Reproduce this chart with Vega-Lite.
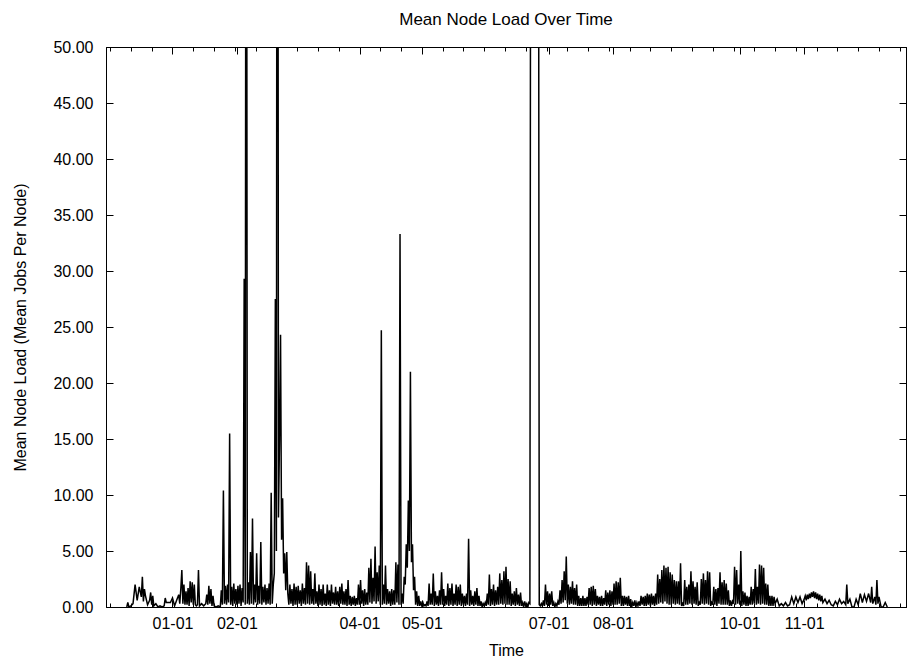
{
  "$schema": "https://vega.github.io/schema/vega-lite/v6.json",
  "autosize": {"type": "none"},
  "width": 800,
  "height": 560,
  "padding": {"left": 106, "top": 47, "right": 14, "bottom": 54},
  "background": "white",
  "title": {"text": "Mean Node Load Over Time", "font": "Liberation Sans", "fontSize": 17, "fontWeight": "normal", "color": "black", "offset": 10, "anchor": "middle"},
  "config": {
    "view": {"stroke": "black", "strokeWidth": 1},
    "axis": {"grid": false, "domainColor": "black", "domainWidth": 1, "tickColor": "black", "tickWidth": 1, "labelFont": "Liberation Sans", "labelFontSize": 16, "labelColor": "black", "titleFont": "Liberation Sans", "titleFontSize": 16, "titleFontWeight": "normal", "titleColor": "black"}
  },
  "data": {
    "format": {"parse": {"t": "utc:'%Y-%m-%d %H'"}},
    "values": [
      {"t": "2002-12-10 00", "v": 0.0}, {"t": "2002-12-10 12", "v": 0.4}, {"t": "2002-12-11 00", "v": 0.0}, {"t": "2002-12-12 00", "v": 0.1},
      {"t": "2002-12-13 00", "v": 0.3}, {"t": "2002-12-14 00", "v": 2.0}, {"t": "2002-12-15 00", "v": 0.6}, {"t": "2002-12-16 00", "v": 1.8},
      {"t": "2002-12-17 00", "v": 0.9}, {"t": "2002-12-17 12", "v": 2.7}, {"t": "2002-12-18 00", "v": 0.5}, {"t": "2002-12-18 12", "v": 1.6},
      {"t": "2002-12-19 00", "v": 1.0}, {"t": "2002-12-20 00", "v": 0.2}, {"t": "2002-12-21 00", "v": 0.6}, {"t": "2002-12-21 12", "v": 1.3},
      {"t": "2002-12-22 00", "v": 0.2}, {"t": "2002-12-22 12", "v": 1.0}, {"t": "2002-12-23 00", "v": 0.1}, {"t": "2002-12-24 00", "v": 0.3},
      {"t": "2002-12-25 00", "v": 0.0}, {"t": "2002-12-26 00", "v": 0.1}, {"t": "2002-12-27 00", "v": 0.0}, {"t": "2002-12-28 00", "v": 0.1},
      {"t": "2002-12-28 12", "v": 0.8}, {"t": "2002-12-29 00", "v": 0.4}, {"t": "2002-12-30 00", "v": 0.4}, {"t": "2002-12-31 00", "v": 0.4},
      {"t": "2003-01-01 00", "v": 0.8}, {"t": "2003-01-02 00", "v": 0.1}, {"t": "2003-01-03 00", "v": 0.6}, {"t": "2003-01-04 00", "v": 1.1},
      {"t": "2003-01-04 12", "v": 0.3}, {"t": "2003-01-05 00", "v": 1.6}, {"t": "2003-01-05 12", "v": 3.3}, {"t": "2003-01-06 00", "v": 0.3},
      {"t": "2003-01-06 12", "v": 2.0}, {"t": "2003-01-07 00", "v": 0.2}, {"t": "2003-01-07 12", "v": 1.4}, {"t": "2003-01-08 00", "v": 0.2},
      {"t": "2003-01-08 12", "v": 1.7}, {"t": "2003-01-09 00", "v": 0.1}, {"t": "2003-01-09 12", "v": 2.3}, {"t": "2003-01-10 00", "v": 0.4},
      {"t": "2003-01-10 12", "v": 2.2}, {"t": "2003-01-11 00", "v": 0.2}, {"t": "2003-01-11 12", "v": 2.0}, {"t": "2003-01-12 00", "v": 0.2},
      {"t": "2003-01-12 12", "v": 0.1}, {"t": "2003-01-13 00", "v": 0.2}, {"t": "2003-01-13 12", "v": 3.3}, {"t": "2003-01-14 00", "v": 0.1},
      {"t": "2003-01-15 00", "v": 0.3}, {"t": "2003-01-16 00", "v": 0.1}, {"t": "2003-01-17 00", "v": 0.3}, {"t": "2003-01-17 12", "v": 1.1},
      {"t": "2003-01-18 00", "v": 0.2}, {"t": "2003-01-18 12", "v": 1.9}, {"t": "2003-01-19 00", "v": 0.3}, {"t": "2003-01-19 12", "v": 1.6},
      {"t": "2003-01-20 00", "v": 0.1}, {"t": "2003-01-20 12", "v": 1.0}, {"t": "2003-01-21 00", "v": 0.1}, {"t": "2003-01-22 00", "v": 0.0},
      {"t": "2003-01-23 00", "v": 0.1}, {"t": "2003-01-24 00", "v": 0.0}, {"t": "2003-01-24 12", "v": 1.5},
      {"t": "2003-01-25 00", "v": 0.2}, {"t": "2003-01-25 12", "v": 10.4}, {"t": "2003-01-26 00", "v": 0.3}, {"t": "2003-01-26 12", "v": 1.9},
      {"t": "2003-01-27 00", "v": 0.2}, {"t": "2003-01-27 12", "v": 2.0}, {"t": "2003-01-28 00", "v": 0.4}, {"t": "2003-01-28 12", "v": 15.5},
      {"t": "2003-01-29 00", "v": 0.2}, {"t": "2003-01-29 12", "v": 1.8}, {"t": "2003-01-30 00", "v": 0.1}, {"t": "2003-01-30 12", "v": 2.1},
      {"t": "2003-01-31 00", "v": 0.3}, {"t": "2003-01-31 12", "v": 1.6}, {"t": "2003-02-01 00", "v": 0.2}, {"t": "2003-02-01 12", "v": 1.9},
      {"t": "2003-02-02 00", "v": 0.3}, {"t": "2003-02-02 12", "v": 2.0}, {"t": "2003-02-03 00", "v": 0.1}, {"t": "2003-02-03 12", "v": 1.7},
      {"t": "2003-02-04 00", "v": 0.4}, {"t": "2003-02-04 12", "v": 29.3}, {"t": "2003-02-05 00", "v": 0.2}, {"t": "2003-02-05 12", "v": 120.0},
      {"t": "2003-02-06 00", "v": 0.3}, {"t": "2003-02-06 12", "v": 2.2}, {"t": "2003-02-07 00", "v": 0.2}, {"t": "2003-02-07 12", "v": 4.9},
      {"t": "2003-02-08 00", "v": 0.3}, {"t": "2003-02-08 12", "v": 7.9}, {"t": "2003-02-09 00", "v": 0.2}, {"t": "2003-02-09 12", "v": 2.0},
      {"t": "2003-02-10 00", "v": 0.4}, {"t": "2003-02-10 12", "v": 4.8}, {"t": "2003-02-11 00", "v": 0.2}, {"t": "2003-02-11 12", "v": 1.9},
      {"t": "2003-02-12 00", "v": 0.3}, {"t": "2003-02-12 12", "v": 5.8}, {"t": "2003-02-13 00", "v": 0.2}, {"t": "2003-02-13 12", "v": 1.8},
      {"t": "2003-02-14 00", "v": 0.4}, {"t": "2003-02-14 12", "v": 2.0}, {"t": "2003-02-15 00", "v": 0.2}, {"t": "2003-02-15 12", "v": 1.7},
      {"t": "2003-02-16 00", "v": 0.3}, {"t": "2003-02-16 12", "v": 2.1}, {"t": "2003-02-17 00", "v": 0.2}, {"t": "2003-02-17 12", "v": 10.2},
      {"t": "2003-02-18 00", "v": 0.3}, {"t": "2003-02-18 12", "v": 2.0}, {"t": "2003-02-19 00", "v": 3.0}, {"t": "2003-02-19 12", "v": 27.5},
      {"t": "2003-02-20 00", "v": 5.0}, {"t": "2003-02-20 12", "v": 140.0}, {"t": "2003-02-21 00", "v": 8.0}, {"t": "2003-02-21 12", "v": 15.0},
      {"t": "2003-02-22 00", "v": 24.3}, {"t": "2003-02-22 12", "v": 6.0}, {"t": "2003-02-23 00", "v": 9.7}, {"t": "2003-02-23 12", "v": 3.0},
      {"t": "2003-02-24 00", "v": 4.8}, {"t": "2003-02-24 12", "v": 1.5}, {"t": "2003-02-25 00", "v": 4.9}, {"t": "2003-02-25 12", "v": 1.2},
      {"t": "2003-02-26 00", "v": 0.2}, {"t": "2003-02-26 12", "v": 2.0}, {"t": "2003-02-27 00", "v": 0.3}, {"t": "2003-02-27 12", "v": 1.6},
      {"t": "2003-02-28 00", "v": 0.1}, {"t": "2003-02-28 12", "v": 2.1}, {"t": "2003-03-01 00", "v": 0.2}, {"t": "2003-03-01 12", "v": 1.8},
      {"t": "2003-03-02 00", "v": 0.2}, {"t": "2003-03-02 12", "v": 1.9}, {"t": "2003-03-03 00", "v": 0.3}, {"t": "2003-03-03 12", "v": 1.5},
      {"t": "2003-03-04 00", "v": 0.1}, {"t": "2003-03-04 12", "v": 2.1}, {"t": "2003-03-05 00", "v": 0.3}, {"t": "2003-03-05 12", "v": 1.7},
      {"t": "2003-03-06 00", "v": 0.2}, {"t": "2003-03-06 12", "v": 4.0}, {"t": "2003-03-07 00", "v": 0.3}, {"t": "2003-03-07 12", "v": 3.7},
      {"t": "2003-03-08 00", "v": 0.2}, {"t": "2003-03-08 12", "v": 3.2}, {"t": "2003-03-09 00", "v": 0.3}, {"t": "2003-03-09 12", "v": 1.6},
      {"t": "2003-03-10 00", "v": 0.2}, {"t": "2003-03-10 12", "v": 3.0}, {"t": "2003-03-11 00", "v": 0.3}, {"t": "2003-03-11 12", "v": 1.4},
      {"t": "2003-03-12 00", "v": 0.1}, {"t": "2003-03-12 12", "v": 2.0}, {"t": "2003-03-13 00", "v": 0.2}, {"t": "2003-03-13 12", "v": 1.6},
      {"t": "2003-03-14 00", "v": 0.1}, {"t": "2003-03-14 12", "v": 2.0}, {"t": "2003-03-15 00", "v": 0.2}, {"t": "2003-03-15 12", "v": 1.2},
      {"t": "2003-03-16 00", "v": 0.1}, {"t": "2003-03-16 12", "v": 2.0}, {"t": "2003-03-17 00", "v": 0.2}, {"t": "2003-03-17 12", "v": 1.5},
      {"t": "2003-03-18 00", "v": 0.1}, {"t": "2003-03-18 12", "v": 2.0}, {"t": "2003-03-19 00", "v": 0.3}, {"t": "2003-03-19 12", "v": 1.3},
      {"t": "2003-03-20 00", "v": 0.2}, {"t": "2003-03-20 12", "v": 1.8}, {"t": "2003-03-21 00", "v": 0.2}, {"t": "2003-03-21 12", "v": 1.4},
      {"t": "2003-03-22 00", "v": 0.1}, {"t": "2003-03-22 12", "v": 1.8}, {"t": "2003-03-23 00", "v": 0.3}, {"t": "2003-03-23 12", "v": 2.1},
      {"t": "2003-03-24 00", "v": 0.2}, {"t": "2003-03-24 12", "v": 1.4}, {"t": "2003-03-25 00", "v": 0.2}, {"t": "2003-03-25 12", "v": 1.6},
      {"t": "2003-03-26 00", "v": 0.1}, {"t": "2003-03-26 12", "v": 2.4}, {"t": "2003-03-27 00", "v": 0.2}, {"t": "2003-03-27 12", "v": 1.0},
      {"t": "2003-03-28 00", "v": 0.1}, {"t": "2003-03-28 12", "v": 0.9}, {"t": "2003-03-29 00", "v": 0.2}, {"t": "2003-03-29 12", "v": 1.0},
      {"t": "2003-03-30 00", "v": 0.1}, {"t": "2003-03-30 12", "v": 0.8}, {"t": "2003-03-31 00", "v": 0.2}, {"t": "2003-03-31 12", "v": 2.0},
      {"t": "2003-04-01 00", "v": 0.2}, {"t": "2003-04-01 12", "v": 2.4}, {"t": "2003-04-02 00", "v": 0.3}, {"t": "2003-04-02 12", "v": 1.5},
      {"t": "2003-04-03 00", "v": 0.1}, {"t": "2003-04-03 12", "v": 1.6}, {"t": "2003-04-04 00", "v": 0.2}, {"t": "2003-04-04 12", "v": 1.3},
      {"t": "2003-04-05 00", "v": 0.2}, {"t": "2003-04-05 12", "v": 3.5}, {"t": "2003-04-06 00", "v": 0.4}, {"t": "2003-04-06 12", "v": 4.3},
      {"t": "2003-04-07 00", "v": 0.3}, {"t": "2003-04-07 12", "v": 2.6}, {"t": "2003-04-08 00", "v": 0.5}, {"t": "2003-04-08 12", "v": 5.4},
      {"t": "2003-04-09 00", "v": 0.3}, {"t": "2003-04-09 12", "v": 3.1}, {"t": "2003-04-10 00", "v": 0.5}, {"t": "2003-04-10 12", "v": 3.7},
      {"t": "2003-04-11 00", "v": 0.2}, {"t": "2003-04-11 12", "v": 24.7}, {"t": "2003-04-12 00", "v": 0.2}, {"t": "2003-04-12 12", "v": 2.0},
      {"t": "2003-04-13 00", "v": 0.3}, {"t": "2003-04-13 12", "v": 3.7}, {"t": "2003-04-14 00", "v": 0.2}, {"t": "2003-04-14 12", "v": 1.6},
      {"t": "2003-04-15 00", "v": 0.3}, {"t": "2003-04-15 12", "v": 1.4}, {"t": "2003-04-16 00", "v": 0.1}, {"t": "2003-04-16 12", "v": 1.6},
      {"t": "2003-04-17 00", "v": 0.2}, {"t": "2003-04-17 12", "v": 1.5}, {"t": "2003-04-18 00", "v": 0.2}, {"t": "2003-04-18 12", "v": 4.0},
      {"t": "2003-04-19 00", "v": 0.4}, {"t": "2003-04-19 12", "v": 3.8}, {"t": "2003-04-20 00", "v": 0.2}, {"t": "2003-04-20 12", "v": 33.3},
      {"t": "2003-04-21 00", "v": 0.2}, {"t": "2003-04-21 12", "v": 1.2}, {"t": "2003-04-22 00", "v": 0.3}, {"t": "2003-04-22 12", "v": 2.7},
      {"t": "2003-04-23 00", "v": 2.0}, {"t": "2003-04-23 12", "v": 5.6}, {"t": "2003-04-24 00", "v": 3.5}, {"t": "2003-04-24 12", "v": 9.5},
      {"t": "2003-04-25 00", "v": 5.0}, {"t": "2003-04-25 12", "v": 21.0}, {"t": "2003-04-26 00", "v": 4.0}, {"t": "2003-04-26 12", "v": 5.6},
      {"t": "2003-04-27 00", "v": 1.5}, {"t": "2003-04-27 12", "v": 2.7}, {"t": "2003-04-28 00", "v": 0.2}, {"t": "2003-04-28 12", "v": 1.4},
      {"t": "2003-04-29 00", "v": 0.1}, {"t": "2003-04-29 12", "v": 1.0}, {"t": "2003-04-30 00", "v": 0.1}, {"t": "2003-04-30 12", "v": 0.5},
      {"t": "2003-05-01 00", "v": 0.1}, {"t": "2003-05-01 12", "v": 0.4}, {"t": "2003-05-02 00", "v": 0.1}, {"t": "2003-05-02 12", "v": 0.2},
      {"t": "2003-05-03 00", "v": 0.1}, {"t": "2003-05-03 12", "v": 0.5}, {"t": "2003-05-04 00", "v": 0.1}, {"t": "2003-05-04 12", "v": 2.1},
      {"t": "2003-05-05 00", "v": 0.2}, {"t": "2003-05-05 12", "v": 1.2}, {"t": "2003-05-06 00", "v": 0.2}, {"t": "2003-05-06 12", "v": 3.0},
      {"t": "2003-05-07 00", "v": 0.1}, {"t": "2003-05-07 12", "v": 1.4}, {"t": "2003-05-08 00", "v": 0.2}, {"t": "2003-05-08 12", "v": 1.0},
      {"t": "2003-05-09 00", "v": 0.1}, {"t": "2003-05-09 12", "v": 1.5}, {"t": "2003-05-10 00", "v": 0.2}, {"t": "2003-05-10 12", "v": 3.1},
      {"t": "2003-05-11 00", "v": 0.2}, {"t": "2003-05-11 12", "v": 1.6}, {"t": "2003-05-12 00", "v": 0.1}, {"t": "2003-05-12 12", "v": 1.0},
      {"t": "2003-05-13 00", "v": 0.2}, {"t": "2003-05-13 12", "v": 2.1}, {"t": "2003-05-14 00", "v": 0.1}, {"t": "2003-05-14 12", "v": 1.7},
      {"t": "2003-05-15 00", "v": 0.2}, {"t": "2003-05-15 12", "v": 2.1}, {"t": "2003-05-16 00", "v": 0.1}, {"t": "2003-05-16 12", "v": 1.2},
      {"t": "2003-05-17 00", "v": 0.2}, {"t": "2003-05-17 12", "v": 2.0}, {"t": "2003-05-18 00", "v": 0.1}, {"t": "2003-05-18 12", "v": 1.8},
      {"t": "2003-05-19 00", "v": 0.2}, {"t": "2003-05-19 12", "v": 2.0}, {"t": "2003-05-20 00", "v": 0.1}, {"t": "2003-05-20 12", "v": 1.2},
      {"t": "2003-05-21 00", "v": 0.2}, {"t": "2003-05-21 12", "v": 1.0}, {"t": "2003-05-22 00", "v": 0.1}, {"t": "2003-05-22 12", "v": 1.2},
      {"t": "2003-05-23 00", "v": 0.2}, {"t": "2003-05-23 12", "v": 6.1}, {"t": "2003-05-24 00", "v": 0.1}, {"t": "2003-05-24 12", "v": 1.5},
      {"t": "2003-05-25 00", "v": 0.2}, {"t": "2003-05-25 12", "v": 1.0}, {"t": "2003-05-26 00", "v": 0.1}, {"t": "2003-05-26 12", "v": 1.4},
      {"t": "2003-05-27 00", "v": 0.2}, {"t": "2003-05-27 12", "v": 1.7}, {"t": "2003-05-28 00", "v": 0.1}, {"t": "2003-05-28 12", "v": 1.0},
      {"t": "2003-05-29 00", "v": 0.1}, {"t": "2003-05-29 12", "v": 0.5}, {"t": "2003-05-30 00", "v": 0.0}, {"t": "2003-05-30 12", "v": 0.3},
      {"t": "2003-05-31 00", "v": 0.1}, {"t": "2003-05-31 12", "v": 0.4}, {"t": "2003-06-01 00", "v": 0.1}, {"t": "2003-06-01 12", "v": 1.2},
      {"t": "2003-06-02 00", "v": 0.2}, {"t": "2003-06-02 12", "v": 2.9}, {"t": "2003-06-03 00", "v": 0.1}, {"t": "2003-06-03 12", "v": 1.6},
      {"t": "2003-06-04 00", "v": 0.2}, {"t": "2003-06-04 12", "v": 2.0}, {"t": "2003-06-05 00", "v": 0.1}, {"t": "2003-06-05 12", "v": 1.5},
      {"t": "2003-06-06 00", "v": 0.2}, {"t": "2003-06-06 12", "v": 1.8}, {"t": "2003-06-07 00", "v": 0.2}, {"t": "2003-06-07 12", "v": 3.0},
      {"t": "2003-06-08 00", "v": 0.3}, {"t": "2003-06-08 12", "v": 2.4}, {"t": "2003-06-09 00", "v": 0.2}, {"t": "2003-06-09 12", "v": 3.2},
      {"t": "2003-06-10 00", "v": 0.3}, {"t": "2003-06-10 12", "v": 3.6}, {"t": "2003-06-11 00", "v": 0.2}, {"t": "2003-06-11 12", "v": 2.5},
      {"t": "2003-06-12 00", "v": 0.2}, {"t": "2003-06-12 12", "v": 2.3}, {"t": "2003-06-13 00", "v": 0.1}, {"t": "2003-06-13 12", "v": 1.2},
      {"t": "2003-06-14 00", "v": 0.2}, {"t": "2003-06-14 12", "v": 1.4}, {"t": "2003-06-15 00", "v": 0.1}, {"t": "2003-06-15 12", "v": 1.7},
      {"t": "2003-06-16 00", "v": 0.2}, {"t": "2003-06-16 12", "v": 1.1}, {"t": "2003-06-17 00", "v": 0.1}, {"t": "2003-06-17 12", "v": 1.3},
      {"t": "2003-06-18 00", "v": 0.1}, {"t": "2003-06-18 12", "v": 0.4}, {"t": "2003-06-19 00", "v": 0.0}, {"t": "2003-06-19 12", "v": 0.5},
      {"t": "2003-06-20 00", "v": 0.1}, {"t": "2003-06-20 12", "v": 0.3}, {"t": "2003-06-21 00", "v": 0.0}, {"t": "2003-06-21 12", "v": 0.4},
      {"t": "2003-06-22 00", "v": 0.3}, {"t": "2003-06-22 12", "v": 95.0}, {"t": "2003-06-23 00", "v": 110.0}, {"t": "2003-06-23 12", "v": 104.0},
      {"t": "2003-06-24 00", "v": 98.0}, {"t": "2003-06-24 12", "v": 112.0}, {"t": "2003-06-25 00", "v": 105.0}, {"t": "2003-06-25 12", "v": 96.0},
      {"t": "2003-06-26 00", "v": 102.0}, {"t": "2003-06-26 12", "v": 0.2}, {"t": "2003-06-27 00", "v": 0.1}, {"t": "2003-06-27 12", "v": 0.3},
      {"t": "2003-06-28 00", "v": 0.1}, {"t": "2003-06-28 12", "v": 0.6}, {"t": "2003-06-29 00", "v": 0.1}, {"t": "2003-06-29 12", "v": 2.0},
      {"t": "2003-06-30 00", "v": 0.2}, {"t": "2003-06-30 12", "v": 1.4}, {"t": "2003-07-01 00", "v": 0.1}, {"t": "2003-07-01 12", "v": 1.2},
      {"t": "2003-07-02 00", "v": 0.2}, {"t": "2003-07-02 12", "v": 1.4}, {"t": "2003-07-03 00", "v": 0.1}, {"t": "2003-07-03 12", "v": 0.4},
      {"t": "2003-07-04 00", "v": 0.0}, {"t": "2003-07-04 12", "v": 0.3}, {"t": "2003-07-05 00", "v": 0.1}, {"t": "2003-07-05 12", "v": 0.5},
      {"t": "2003-07-06 00", "v": 0.2}, {"t": "2003-07-06 12", "v": 1.5}, {"t": "2003-07-07 00", "v": 0.3}, {"t": "2003-07-07 12", "v": 2.4},
      {"t": "2003-07-08 00", "v": 0.4}, {"t": "2003-07-08 12", "v": 3.2}, {"t": "2003-07-09 00", "v": 0.6}, {"t": "2003-07-09 12", "v": 4.5},
      {"t": "2003-07-10 00", "v": 0.3}, {"t": "2003-07-10 12", "v": 2.0}, {"t": "2003-07-11 00", "v": 0.2}, {"t": "2003-07-11 12", "v": 1.8},
      {"t": "2003-07-12 00", "v": 0.3}, {"t": "2003-07-12 12", "v": 2.3}, {"t": "2003-07-13 00", "v": 0.2}, {"t": "2003-07-13 12", "v": 1.7},
      {"t": "2003-07-14 00", "v": 0.2}, {"t": "2003-07-14 12", "v": 2.0}, {"t": "2003-07-15 00", "v": 0.1}, {"t": "2003-07-15 12", "v": 1.0},
      {"t": "2003-07-16 00", "v": 0.1}, {"t": "2003-07-16 12", "v": 0.8}, {"t": "2003-07-17 00", "v": 0.1}, {"t": "2003-07-17 12", "v": 1.0},
      {"t": "2003-07-18 00", "v": 0.1}, {"t": "2003-07-18 12", "v": 0.8}, {"t": "2003-07-19 00", "v": 0.1}, {"t": "2003-07-19 12", "v": 0.9},
      {"t": "2003-07-20 00", "v": 0.2}, {"t": "2003-07-20 12", "v": 1.7}, {"t": "2003-07-21 00", "v": 0.2}, {"t": "2003-07-21 12", "v": 1.8},
      {"t": "2003-07-22 00", "v": 0.1}, {"t": "2003-07-22 12", "v": 1.9}, {"t": "2003-07-23 00", "v": 0.2}, {"t": "2003-07-23 12", "v": 1.6},
      {"t": "2003-07-24 00", "v": 0.1}, {"t": "2003-07-24 12", "v": 1.0}, {"t": "2003-07-25 00", "v": 0.2}, {"t": "2003-07-25 12", "v": 0.9},
      {"t": "2003-07-26 00", "v": 0.1}, {"t": "2003-07-26 12", "v": 1.0}, {"t": "2003-07-27 00", "v": 0.1}, {"t": "2003-07-27 12", "v": 0.8},
      {"t": "2003-07-28 00", "v": 0.2}, {"t": "2003-07-28 12", "v": 1.5}, {"t": "2003-07-29 00", "v": 0.1}, {"t": "2003-07-29 12", "v": 1.3},
      {"t": "2003-07-30 00", "v": 0.2}, {"t": "2003-07-30 12", "v": 1.5}, {"t": "2003-07-31 00", "v": 0.1}, {"t": "2003-07-31 12", "v": 1.4},
      {"t": "2003-08-01 00", "v": 0.2}, {"t": "2003-08-01 12", "v": 2.1}, {"t": "2003-08-02 00", "v": 0.2}, {"t": "2003-08-02 12", "v": 2.3},
      {"t": "2003-08-03 00", "v": 0.2}, {"t": "2003-08-03 12", "v": 2.2}, {"t": "2003-08-04 00", "v": 0.3}, {"t": "2003-08-04 12", "v": 2.6},
      {"t": "2003-08-05 00", "v": 0.1}, {"t": "2003-08-05 12", "v": 1.0}, {"t": "2003-08-06 00", "v": 0.1}, {"t": "2003-08-06 12", "v": 1.0},
      {"t": "2003-08-07 00", "v": 0.2}, {"t": "2003-08-07 12", "v": 0.9}, {"t": "2003-08-08 00", "v": 0.1}, {"t": "2003-08-08 12", "v": 1.0},
      {"t": "2003-08-09 00", "v": 0.1}, {"t": "2003-08-09 12", "v": 0.7}, {"t": "2003-08-10 00", "v": 0.0}, {"t": "2003-08-10 12", "v": 0.4},
      {"t": "2003-08-11 00", "v": 0.1}, {"t": "2003-08-11 12", "v": 0.6}, {"t": "2003-08-12 00", "v": 0.0}, {"t": "2003-08-12 12", "v": 0.4},
      {"t": "2003-08-13 00", "v": 0.1}, {"t": "2003-08-13 12", "v": 0.5}, {"t": "2003-08-14 00", "v": 0.1}, {"t": "2003-08-14 12", "v": 1.0},
      {"t": "2003-08-15 00", "v": 0.2}, {"t": "2003-08-15 12", "v": 0.9}, {"t": "2003-08-16 00", "v": 0.1}, {"t": "2003-08-16 12", "v": 1.0},
      {"t": "2003-08-17 00", "v": 0.1}, {"t": "2003-08-17 12", "v": 1.2}, {"t": "2003-08-18 00", "v": 0.2}, {"t": "2003-08-18 12", "v": 1.1},
      {"t": "2003-08-19 00", "v": 0.1}, {"t": "2003-08-19 12", "v": 1.2}, {"t": "2003-08-20 00", "v": 0.2}, {"t": "2003-08-20 12", "v": 1.0},
      {"t": "2003-08-21 00", "v": 0.1}, {"t": "2003-08-21 12", "v": 1.2}, {"t": "2003-08-22 00", "v": 0.2}, {"t": "2003-08-22 12", "v": 2.9},
      {"t": "2003-08-23 00", "v": 0.3}, {"t": "2003-08-23 12", "v": 2.5}, {"t": "2003-08-24 00", "v": 0.4}, {"t": "2003-08-24 12", "v": 3.3},
      {"t": "2003-08-25 00", "v": 0.3}, {"t": "2003-08-25 12", "v": 3.7}, {"t": "2003-08-26 00", "v": 0.5}, {"t": "2003-08-26 12", "v": 3.5},
      {"t": "2003-08-27 00", "v": 0.3}, {"t": "2003-08-27 12", "v": 3.6}, {"t": "2003-08-28 00", "v": 0.2}, {"t": "2003-08-28 12", "v": 3.1},
      {"t": "2003-08-29 00", "v": 0.2}, {"t": "2003-08-29 12", "v": 2.9}, {"t": "2003-08-30 00", "v": 0.3}, {"t": "2003-08-30 12", "v": 2.4},
      {"t": "2003-08-31 00", "v": 0.2}, {"t": "2003-08-31 12", "v": 2.3}, {"t": "2003-09-01 00", "v": 0.3}, {"t": "2003-09-01 12", "v": 2.3},
      {"t": "2003-09-02 00", "v": 0.2}, {"t": "2003-09-02 12", "v": 3.9}, {"t": "2003-09-03 00", "v": 0.1}, {"t": "2003-09-03 12", "v": 0.3},
      {"t": "2003-09-04 00", "v": 0.1}, {"t": "2003-09-04 12", "v": 2.4}, {"t": "2003-09-05 00", "v": 0.2}, {"t": "2003-09-05 12", "v": 1.8},
      {"t": "2003-09-06 00", "v": 0.2}, {"t": "2003-09-06 12", "v": 2.0}, {"t": "2003-09-07 00", "v": 0.3}, {"t": "2003-09-07 12", "v": 3.2},
      {"t": "2003-09-08 00", "v": 0.2}, {"t": "2003-09-08 12", "v": 2.3}, {"t": "2003-09-09 00", "v": 0.3}, {"t": "2003-09-09 12", "v": 1.8},
      {"t": "2003-09-10 00", "v": 0.2}, {"t": "2003-09-10 12", "v": 2.2}, {"t": "2003-09-11 00", "v": 0.1}, {"t": "2003-09-11 12", "v": 0.4},
      {"t": "2003-09-12 00", "v": 0.2}, {"t": "2003-09-12 12", "v": 2.5}, {"t": "2003-09-13 00", "v": 0.3}, {"t": "2003-09-13 12", "v": 3.0},
      {"t": "2003-09-14 00", "v": 0.2}, {"t": "2003-09-14 12", "v": 2.4}, {"t": "2003-09-15 00", "v": 0.3}, {"t": "2003-09-15 12", "v": 3.2},
      {"t": "2003-09-16 00", "v": 0.2}, {"t": "2003-09-16 12", "v": 3.1}, {"t": "2003-09-17 00", "v": 0.1}, {"t": "2003-09-17 12", "v": 0.4},
      {"t": "2003-09-18 00", "v": 0.2}, {"t": "2003-09-18 12", "v": 1.8}, {"t": "2003-09-19 00", "v": 0.2}, {"t": "2003-09-19 12", "v": 1.6},
      {"t": "2003-09-20 00", "v": 0.1}, {"t": "2003-09-20 12", "v": 1.7}, {"t": "2003-09-21 00", "v": 0.3}, {"t": "2003-09-21 12", "v": 3.1},
      {"t": "2003-09-22 00", "v": 0.2}, {"t": "2003-09-22 12", "v": 2.2}, {"t": "2003-09-23 00", "v": 0.2}, {"t": "2003-09-23 12", "v": 2.4},
      {"t": "2003-09-24 00", "v": 0.2}, {"t": "2003-09-24 12", "v": 2.1}, {"t": "2003-09-25 00", "v": 0.2}, {"t": "2003-09-25 12", "v": 1.5},
      {"t": "2003-09-26 00", "v": 0.1}, {"t": "2003-09-26 12", "v": 0.6}, {"t": "2003-09-27 00", "v": 0.1}, {"t": "2003-09-27 12", "v": 0.5},
      {"t": "2003-09-28 00", "v": 0.3}, {"t": "2003-09-28 12", "v": 3.6}, {"t": "2003-09-29 00", "v": 0.2}, {"t": "2003-09-29 12", "v": 3.3},
      {"t": "2003-09-30 00", "v": 0.3}, {"t": "2003-09-30 12", "v": 2.0}, {"t": "2003-10-01 00", "v": 0.2}, {"t": "2003-10-01 12", "v": 5.0},
      {"t": "2003-10-02 00", "v": 0.1}, {"t": "2003-10-02 12", "v": 1.4}, {"t": "2003-10-03 00", "v": 0.2}, {"t": "2003-10-03 12", "v": 1.3},
      {"t": "2003-10-04 00", "v": 0.1}, {"t": "2003-10-04 12", "v": 1.0}, {"t": "2003-10-05 00", "v": 0.1}, {"t": "2003-10-05 12", "v": 0.9},
      {"t": "2003-10-06 00", "v": 0.2}, {"t": "2003-10-06 12", "v": 1.8}, {"t": "2003-10-07 00", "v": 0.2}, {"t": "2003-10-07 12", "v": 1.6},
      {"t": "2003-10-08 00", "v": 0.3}, {"t": "2003-10-08 12", "v": 3.4}, {"t": "2003-10-09 00", "v": 0.2}, {"t": "2003-10-09 12", "v": 1.8},
      {"t": "2003-10-10 00", "v": 0.3}, {"t": "2003-10-10 12", "v": 3.8}, {"t": "2003-10-11 00", "v": 0.2}, {"t": "2003-10-11 12", "v": 3.7},
      {"t": "2003-10-12 00", "v": 0.3}, {"t": "2003-10-12 12", "v": 3.5}, {"t": "2003-10-13 00", "v": 0.2}, {"t": "2003-10-13 12", "v": 2.1},
      {"t": "2003-10-14 00", "v": 0.2}, {"t": "2003-10-14 12", "v": 2.0}, {"t": "2003-10-15 00", "v": 0.1}, {"t": "2003-10-15 12", "v": 1.0},
      {"t": "2003-10-16 00", "v": 0.1}, {"t": "2003-10-16 12", "v": 1.0}, {"t": "2003-10-17 00", "v": 0.1}, {"t": "2003-10-17 12", "v": 0.9},
      {"t": "2003-10-18 00", "v": 0.3}, {"t": "2003-10-19 00", "v": 0.7}, {"t": "2003-10-20 00", "v": 0.1}, {"t": "2003-10-21 00", "v": 0.3},
      {"t": "2003-10-22 00", "v": 0.1}, {"t": "2003-10-23 00", "v": 0.4}, {"t": "2003-10-24 00", "v": 0.1}, {"t": "2003-10-25 00", "v": 0.2},
      {"t": "2003-10-26 00", "v": 0.9}, {"t": "2003-10-27 00", "v": 0.3}, {"t": "2003-10-28 00", "v": 0.9}, {"t": "2003-10-29 00", "v": 0.4},
      {"t": "2003-10-30 00", "v": 0.9}, {"t": "2003-10-31 00", "v": 0.3}, {"t": "2003-11-01 00", "v": 0.7}, {"t": "2003-11-01 12", "v": 1.0},
      {"t": "2003-11-02 00", "v": 0.6}, {"t": "2003-11-02 12", "v": 1.1}, {"t": "2003-11-03 00", "v": 0.7}, {"t": "2003-11-03 12", "v": 1.2},
      {"t": "2003-11-04 00", "v": 0.8}, {"t": "2003-11-04 12", "v": 1.3}, {"t": "2003-11-05 00", "v": 0.9}, {"t": "2003-11-05 12", "v": 1.4},
      {"t": "2003-11-06 00", "v": 0.8}, {"t": "2003-11-06 12", "v": 1.3}, {"t": "2003-11-07 00", "v": 0.7}, {"t": "2003-11-07 12", "v": 1.2},
      {"t": "2003-11-08 00", "v": 0.6}, {"t": "2003-11-08 12", "v": 1.1}, {"t": "2003-11-09 00", "v": 0.5}, {"t": "2003-11-09 12", "v": 1.0},
      {"t": "2003-11-10 00", "v": 0.4}, {"t": "2003-11-11 00", "v": 0.7}, {"t": "2003-11-12 00", "v": 0.3}, {"t": "2003-11-13 00", "v": 0.6},
      {"t": "2003-11-14 00", "v": 0.2}, {"t": "2003-11-15 00", "v": 0.1}, {"t": "2003-11-16 00", "v": 0.5}, {"t": "2003-11-17 00", "v": 0.2},
      {"t": "2003-11-18 00", "v": 0.7}, {"t": "2003-11-19 00", "v": 0.3}, {"t": "2003-11-20 00", "v": 0.5}, {"t": "2003-11-21 00", "v": 0.2},
      {"t": "2003-11-21 12", "v": 2.0}, {"t": "2003-11-22 00", "v": 0.3}, {"t": "2003-11-23 00", "v": 0.7}, {"t": "2003-11-24 00", "v": 0.0},
      {"t": "2003-11-25 00", "v": 0.0}, {"t": "2003-11-26 00", "v": 0.7}, {"t": "2003-11-27 00", "v": 0.2}, {"t": "2003-11-28 00", "v": 1.2},
      {"t": "2003-11-29 00", "v": 0.4}, {"t": "2003-11-30 00", "v": 1.1}, {"t": "2003-12-01 00", "v": 0.5}, {"t": "2003-12-02 00", "v": 1.2},
      {"t": "2003-12-03 00", "v": 0.4}, {"t": "2003-12-03 12", "v": 1.8}, {"t": "2003-12-04 00", "v": 0.3}, {"t": "2003-12-05 00", "v": 0.9},
      {"t": "2003-12-05 12", "v": 0.2}, {"t": "2003-12-06 00", "v": 2.4}, {"t": "2003-12-06 12", "v": 0.3}, {"t": "2003-12-07 00", "v": 0.9},
      {"t": "2003-12-08 00", "v": 0.0}, {"t": "2003-12-09 00", "v": 0.0}, {"t": "2003-12-10 00", "v": 0.4}, {"t": "2003-12-11 00", "v": 0.0}
    ]
  },
  "layer": [
    {
      "mark": {"type": "line", "color": "black", "strokeWidth": 1.5, "clip": true},
      "encoding": {
        "x": {
          "field": "t", "type": "temporal",
          "scale": {"type": "utc", "domain": [{"year": 2002, "month": 11, "date": 30, "utc": true}, {"year": 2003, "month": 12, "date": 20, "utc": true}]},
          "axis": {
            "orient": "bottom", "title": "Time", "titlePadding": 8,
            "labelExpr": "utcdate(datum.value) == 1 ? utcFormat(datum.value, '%m-%d') : ''",
            "values": [
              {"year": 2002, "month": 12, "date": 2, "utc": true}, {"year": 2002, "month": 12, "date": 12, "utc": true}, {"year": 2002, "month": 12, "date": 22, "utc": true},
              {"year": 2003, "month": 1, "date": 1, "utc": true}, {"year": 2003, "month": 1, "date": 11, "utc": true}, {"year": 2003, "month": 1, "date": 21, "utc": true},
              {"year": 2003, "month": 1, "date": 31, "utc": true}, {"year": 2003, "month": 2, "date": 1, "utc": true}, {"year": 2003, "month": 2, "date": 10, "utc": true},
              {"year": 2003, "month": 2, "date": 20, "utc": true}, {"year": 2003, "month": 3, "date": 2, "utc": true}, {"year": 2003, "month": 3, "date": 12, "utc": true},
              {"year": 2003, "month": 3, "date": 22, "utc": true}, {"year": 2003, "month": 4, "date": 1, "utc": true}, {"year": 2003, "month": 4, "date": 11, "utc": true},
              {"year": 2003, "month": 4, "date": 21, "utc": true}, {"year": 2003, "month": 5, "date": 1, "utc": true}, {"year": 2003, "month": 5, "date": 11, "utc": true},
              {"year": 2003, "month": 5, "date": 21, "utc": true}, {"year": 2003, "month": 5, "date": 31, "utc": true}, {"year": 2003, "month": 6, "date": 10, "utc": true},
              {"year": 2003, "month": 6, "date": 20, "utc": true}, {"year": 2003, "month": 6, "date": 30, "utc": true}, {"year": 2003, "month": 7, "date": 1, "utc": true},
              {"year": 2003, "month": 7, "date": 10, "utc": true}, {"year": 2003, "month": 7, "date": 20, "utc": true}, {"year": 2003, "month": 7, "date": 30, "utc": true},
              {"year": 2003, "month": 8, "date": 1, "utc": true}, {"year": 2003, "month": 8, "date": 9, "utc": true}, {"year": 2003, "month": 8, "date": 19, "utc": true},
              {"year": 2003, "month": 8, "date": 29, "utc": true}, {"year": 2003, "month": 9, "date": 8, "utc": true}, {"year": 2003, "month": 9, "date": 18, "utc": true},
              {"year": 2003, "month": 9, "date": 28, "utc": true}, {"year": 2003, "month": 10, "date": 1, "utc": true}, {"year": 2003, "month": 10, "date": 8, "utc": true},
              {"year": 2003, "month": 10, "date": 18, "utc": true}, {"year": 2003, "month": 10, "date": 28, "utc": true}, {"year": 2003, "month": 11, "date": 1, "utc": true},
              {"year": 2003, "month": 11, "date": 7, "utc": true}, {"year": 2003, "month": 11, "date": 17, "utc": true}, {"year": 2003, "month": 11, "date": 27, "utc": true},
              {"year": 2003, "month": 12, "date": 7, "utc": true}, {"year": 2003, "month": 12, "date": 17, "utc": true}
            ],
            "tickSize": {"condition": {"test": "utcdate(datum.value) == 1", "value": -7}, "value": -4},
            "labelPadding": 15, "labelFlush": false, "labelOverlap": false
          }
        },
        "y": {
          "field": "v", "type": "quantitative",
          "scale": {"domain": [0, 50], "nice": false, "zero": true},
          "axis": {
            "orient": "left", "title": "Mean Node Load (Mean Jobs Per Node)", "titlePadding": 24,
            "values": [0, 5, 10, 15, 20, 25, 30, 35, 40, 45, 50], "format": ".2f",
            "tickSize": -7, "labelPadding": 20, "labelFlush": false, "labelOverlap": false
          }
        }
      }
    },
    {
      "mark": {"type": "point", "opacity": 0, "clip": true},
      "encoding": {
        "x": {
          "field": "t", "type": "temporal",
          "axis": {
            "orient": "top", "title": null, "labels": false,
            "values": [
              {"year": 2002, "month": 12, "date": 2, "utc": true}, {"year": 2002, "month": 12, "date": 12, "utc": true}, {"year": 2002, "month": 12, "date": 22, "utc": true},
              {"year": 2003, "month": 1, "date": 1, "utc": true}, {"year": 2003, "month": 1, "date": 11, "utc": true}, {"year": 2003, "month": 1, "date": 21, "utc": true},
              {"year": 2003, "month": 1, "date": 31, "utc": true}, {"year": 2003, "month": 2, "date": 1, "utc": true}, {"year": 2003, "month": 2, "date": 10, "utc": true},
              {"year": 2003, "month": 2, "date": 20, "utc": true}, {"year": 2003, "month": 3, "date": 2, "utc": true}, {"year": 2003, "month": 3, "date": 12, "utc": true},
              {"year": 2003, "month": 3, "date": 22, "utc": true}, {"year": 2003, "month": 4, "date": 1, "utc": true}, {"year": 2003, "month": 4, "date": 11, "utc": true},
              {"year": 2003, "month": 4, "date": 21, "utc": true}, {"year": 2003, "month": 5, "date": 1, "utc": true}, {"year": 2003, "month": 5, "date": 11, "utc": true},
              {"year": 2003, "month": 5, "date": 21, "utc": true}, {"year": 2003, "month": 5, "date": 31, "utc": true}, {"year": 2003, "month": 6, "date": 10, "utc": true},
              {"year": 2003, "month": 6, "date": 20, "utc": true}, {"year": 2003, "month": 6, "date": 30, "utc": true}, {"year": 2003, "month": 7, "date": 1, "utc": true},
              {"year": 2003, "month": 7, "date": 10, "utc": true}, {"year": 2003, "month": 7, "date": 20, "utc": true}, {"year": 2003, "month": 7, "date": 30, "utc": true},
              {"year": 2003, "month": 8, "date": 1, "utc": true}, {"year": 2003, "month": 8, "date": 9, "utc": true}, {"year": 2003, "month": 8, "date": 19, "utc": true},
              {"year": 2003, "month": 8, "date": 29, "utc": true}, {"year": 2003, "month": 9, "date": 8, "utc": true}, {"year": 2003, "month": 9, "date": 18, "utc": true},
              {"year": 2003, "month": 9, "date": 28, "utc": true}, {"year": 2003, "month": 10, "date": 1, "utc": true}, {"year": 2003, "month": 10, "date": 8, "utc": true},
              {"year": 2003, "month": 10, "date": 18, "utc": true}, {"year": 2003, "month": 10, "date": 28, "utc": true}, {"year": 2003, "month": 11, "date": 1, "utc": true},
              {"year": 2003, "month": 11, "date": 7, "utc": true}, {"year": 2003, "month": 11, "date": 17, "utc": true}, {"year": 2003, "month": 11, "date": 27, "utc": true},
              {"year": 2003, "month": 12, "date": 7, "utc": true}, {"year": 2003, "month": 12, "date": 17, "utc": true}
            ],
            "tickSize": {"condition": {"test": "utcdate(datum.value) == 1", "value": -7}, "value": -4}
          }
        },
        "y": {
          "field": "v", "type": "quantitative",
          "axis": {"orient": "right", "title": null, "labels": false, "values": [0, 5, 10, 15, 20, 25, 30, 35, 40, 45, 50], "tickSize": -7}
        }
      }
    }
  ],
  "resolve": {"axis": {"x": "independent", "y": "independent"}}
}
